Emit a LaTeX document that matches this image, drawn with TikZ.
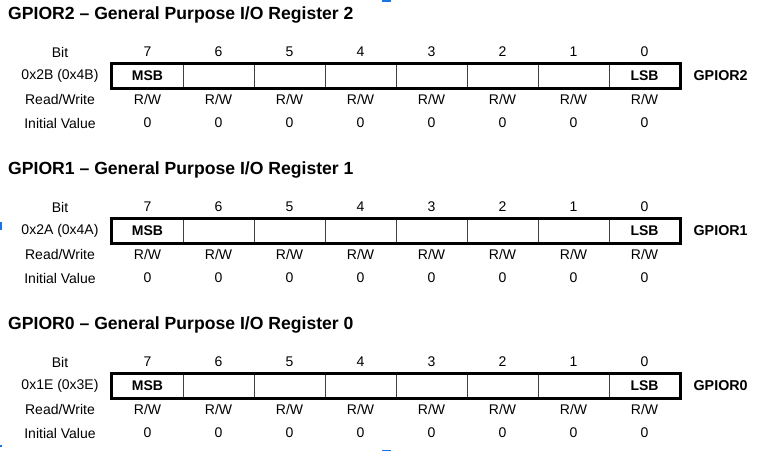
\documentclass[tikz,border=0pt]{standalone}
\usepackage{fontspec}
\setmainfont{Liberation Sans}
\usetikzlibrary{positioning,calc}
\definecolor{handle}{HTML}{1A73E8}

\begin{document}
\begin{tikzpicture}[x=1pt,y=-1pt,
    lbl/.style={font=\fontsize{14}{16}\selectfont, inner sep=0pt},
    regtitle/.style={font=\fontsize{17.6}{20}\selectfont\bfseries, anchor=west, inner sep=0pt},
    bitcell/.style={draw=black!75, line width=0.8pt, minimum width=71pt, minimum height=24pt, inner sep=0pt},
    regname/.style={font=\fontsize{14.3}{16}\selectfont\bfseries, anchor=west, inner sep=0pt}]
    \useasboundingbox[fill=white] (0,0) rectangle (767,451);

    % Selection handles of the screenshot
    \fill[handle] (382,0) rectangle (391,1.5);
    \fill[handle] (0,222) rectangle (1.5,230);
    \fill[handle] (0,445) rectangle (2,447);
    \fill[handle] (382,449.5) rectangle (391,451);

    \foreach \ty/\rn/\ad in {15/2/0x2B (0x4B), 170/1/0x2A (0x4A), 325/0/0x1E (0x3E)} {
        % Register heading
        \node[regtitle] (title\rn) at (8,\ty) {GPIOR\rn\ \textendash\ General Purpose I/O Register \rn};

        % Row captions
        \node[lbl] (bit\rn) at (60,\ty+37) {Bit};
        \node[lbl] (addr\rn) at (60,\ty+61) {\ad};
        \node[lbl] (rw\rn) at (60,\ty+84) {Read/Write};
        \node[lbl] (init\rn) at (60,\ty+108) {Initial Value};

        % Bit cells
        \foreach \b in {0,...,7} {
            \pgfmathsetmacro\cx{147.5+(7-\b)*71}
            \node[lbl] (num\rn\b) at (\cx,\ty+37) {\b};
            \node[bitcell] (cell\rn\b) at (\cx,\ty+61) {};
            \node[lbl] (acc\rn\b) at (\cx,\ty+84) {R/W};
            \node[lbl] (val\rn\b) at (\cx,\ty+108) {0};
        }
        \node[font=\fontsize{14}{16}\selectfont\bfseries] at (cell\rn7) {MSB};
        \node[font=\fontsize{14}{16}\selectfont\bfseries] at (cell\rn0) {LSB};

        % Thick frame and register name
        \draw[line width=3pt] (cell\rn7.north west) rectangle (cell\rn0.south east);
        \node[regname] (reg\rn) at ($(cell\rn0.east)+(13,0)$) {GPIOR\rn};
    }
\end{tikzpicture}
\end{document}
